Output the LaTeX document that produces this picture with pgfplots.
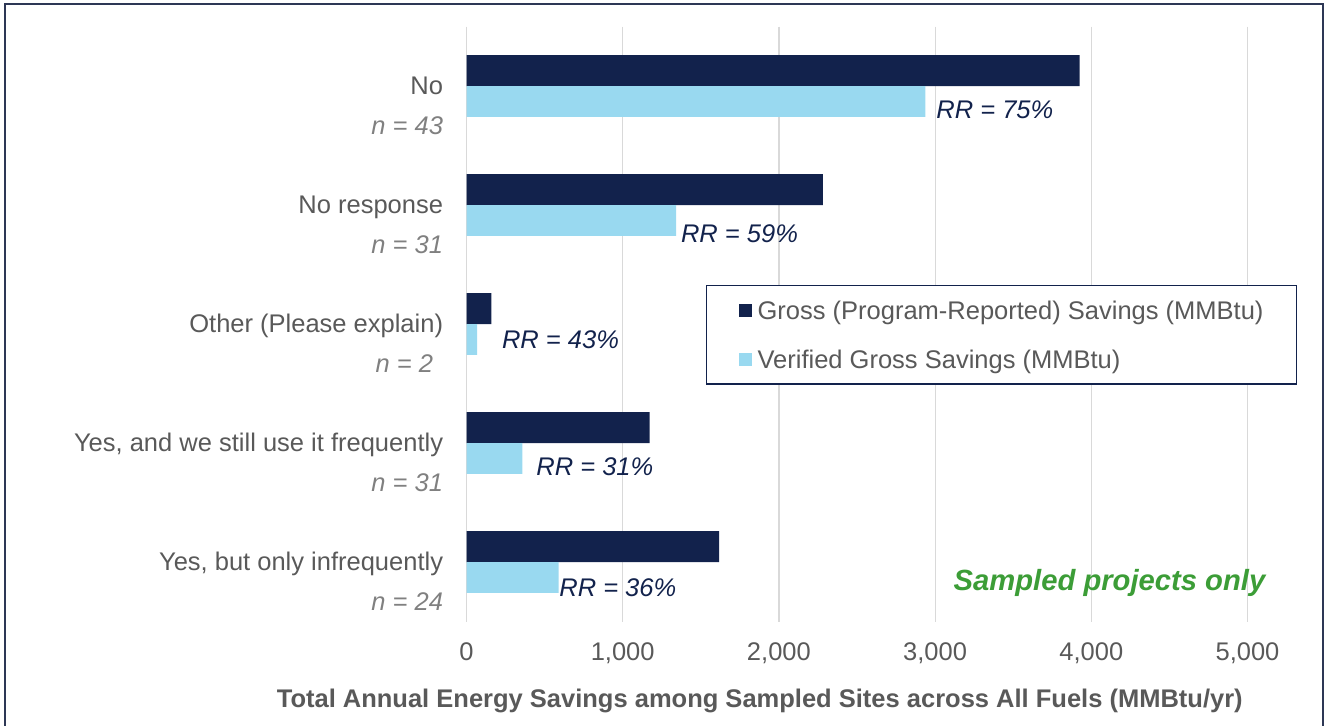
\documentclass[border=0pt]{standalone}
\usepackage{fontspec}
\setmainfont{Liberation Sans}
\usepackage{pgfplots}
\pgfplotsset{compat=1.18}
\definecolor{navy}{RGB}{18,34,76}
\definecolor{lblue}{RGB}{153,217,240}
\definecolor{tgray}{RGB}{89,89,89}
\definecolor{ngray}{RGB}{128,128,128}
\definecolor{ggrid}{RGB}{217,217,217}
\definecolor{sgreen}{RGB}{60,157,55}
\definecolor{framec}{RGB}{45,55,85}
\newcommand{\cat}[2]{\begin{tabular}[t]{@{}r@{}}#1\\\textcolor{ngray}{\itshape #2}\end{tabular}}
\newcommand{\lfont}{\fontsize{12.75}{20}\selectfont}
\begin{document}
\begin{tikzpicture}
\path (0pt,0pt) rectangle (663pt,-363pt);
\begin{axis}[
  at={(233.25pt,-310.75pt)}, anchor=south west,
  scale only axis, width=390.5pt, height=297.5pt,
  xmin=0, xmax=5000, ymin=-0.5, ymax=4.5, y dir=reverse,
  xbar, bar width=0.26,
  font=\lfont,
  axis line style={draw=none}, tick style={draw=none},
  xtick={0,1000,...,5000},
  xmajorgrids, grid style={draw=ggrid, line width=0.6pt},
  tick label style={font=\lfont},
  xticklabel style={anchor=base, inner sep=0pt, yshift=-19.5pt, text=tgray},
  /pgf/number format/1000 sep={,},
  /pgf/number format/assume math mode=true,
  ytick={0,1,2,3,4},
  yticklabels={{\cat{No}{n = 43}},{\cat{No response}{n = 31}},{\cat{Other (Please explain)}{n = 2\hspace{5pt}}},{\cat{Yes, and we still use it frequently}{n = 31}},{\cat{Yes, but only infrequently}{n = 24}}},
  yticklabel style={anchor=base east, inner sep=0pt, xshift=-7.25pt, yshift=-4.15pt, text=tgray},
  xlabel={Total Annual Energy Savings among Sampled Sites across All Fuels (MMBtu/yr)},
  xlabel style={at={(axis description cs:0.3755,-0.1445)}, anchor=base, font=\lfont\bfseries, text=tgray, inner sep=0pt},
  legend style={at={(0.3063,0.5655)}, anchor=north west, draw=navy, line width=0.6pt,
    inner xsep=16.5pt, inner ysep=7.8pt, row sep=15.37pt, cells={anchor=west},
    nodes={inner sep=0pt, text height=9.13pt, text depth=0pt, text=tgray, font=\lfont},
    /tikz/every odd column/.append style={column sep=2.8pt}},
  legend image code/.code={\fill[#1,draw=none] (0pt,-3.175pt) rectangle (6.35pt,3.175pt);},
  clip=false,
]
\addplot[fill=navy, draw=none, bar shift=-0.13] coordinates {(3926,0) (2282,1) (160,2) (1172,3) (1618,4)};
\addplot[fill=lblue, draw=none, bar shift=0.13] coordinates {(2937,0) (1342,1) (68,2) (358,3) (589,4)};
\legend{Gross (Program-Reported) Savings (MMBtu), Verified Gross Savings (MMBtu)}
\begin{scope}[every node/.style={anchor=west, inner sep=0pt, text=navy, font=\lfont\itshape, text height=9.13pt, text depth=0pt}]
\node at (axis cs:3006,0.20) {RR = 75\%};
\node at (axis cs:1371,1.24) {RR = 59\%};
\node at (axis cs:225,2.13) {RR = 43\%};
\node at (axis cs:445,3.20) {RR = 31\%};
\node at (axis cs:592,4.21) {RR = 36\%};
\end{scope}
\end{axis}
\node[anchor=base west, inner sep=0pt, text=sgreen, font=\fontsize{14.6}{18}\selectfont\bfseries\itshape] at (476.65pt,-295pt) {Sampled projects only};
\draw[overlay, framec, line width=0.8pt] (2.5pt,-370pt) -- (2.5pt,-2pt) -- (661.5pt,-2pt) -- (661.5pt,-370pt);
\end{tikzpicture}
\end{document}
